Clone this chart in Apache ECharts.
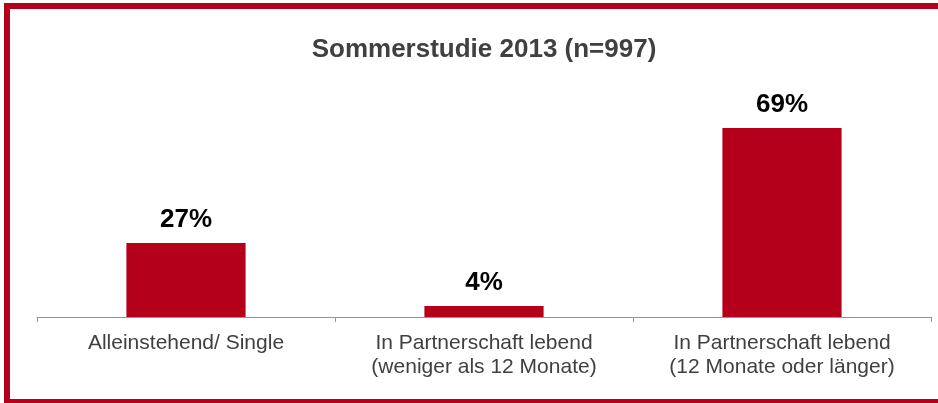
<!DOCTYPE html>
<html>
<head>
<meta charset="utf-8">
<script src="https://cdn.jsdelivr.net/npm/echarts@6/dist/echarts.min.js"></script>
<style>
html,body{margin:0;padding:0;background:#fff;}
#chart{width:938px;height:403px;}
</style>
</head>
<body>
<div id="chart"></div>
<script>
const titleText = 'Sommerstudie 2013 (n=997)';
const categories = [
  'Alleinstehend/ Single',
  'In Partnerschaft lebend\n(weniger als 12 Monate)',
  'In Partnerschaft lebend\n(12 Monate oder länger)'
];
const values = [27, 4, 69];

const red = '#B4001B';
const font = '"Liberation Sans", Arial, sans-serif';
const chart = echarts.init(document.getElementById('chart'), null, {renderer: 'canvas'});
chart.setOption({
  animation: false,
  backgroundColor: '#ffffff',
  title: {
    text: titleText,
    left: 479,
    top: 32,
    textAlign: 'center',
    textStyle: {fontFamily: font, fontSize: 26, fontWeight: 'bold', color: '#404040'}
  },
  grid: {left: 37, right: 7, top: 43, bottom: 86},
  xAxis: {
    type: 'category',
    data: categories,
    axisLine: {lineStyle: {color: '#8c96a0', width: 1}},
    axisTick: {show: true, length: 5, lineStyle: {color: '#8c96a0'}},
    axisLabel: {
      margin: 14,
      fontFamily: font,
      fontSize: 21,
      lineHeight: 24,
      color: '#404040',
      interval: 0
    }
  },
  yAxis: {
    type: 'value', min: 0, max: 100,
    show: false,
    splitLine: {show: false}
  },
  series: [{
    type: 'bar',
    data: values,
    barWidth: '40%',
    itemStyle: {color: red},
    label: {
      show: true,
      position: 'top',
      distance: 10,
      formatter: '{c}%',
      fontFamily: font,
      fontSize: 26,
      fontWeight: 'bold',
      color: '#000000'
    }
  }],
  graphic: [
    {type: 'rect', shape: {x: 4, y: 3, width: 934, height: 6}, style: {fill: red}, silent: true},
    {type: 'rect', shape: {x: 4, y: 3, width: 6, height: 400}, style: {fill: red}, silent: true},
    {type: 'rect', shape: {x: 4, y: 399, width: 934, height: 4}, style: {fill: red}, silent: true}
  ]
});
</script>
</body>
</html>
